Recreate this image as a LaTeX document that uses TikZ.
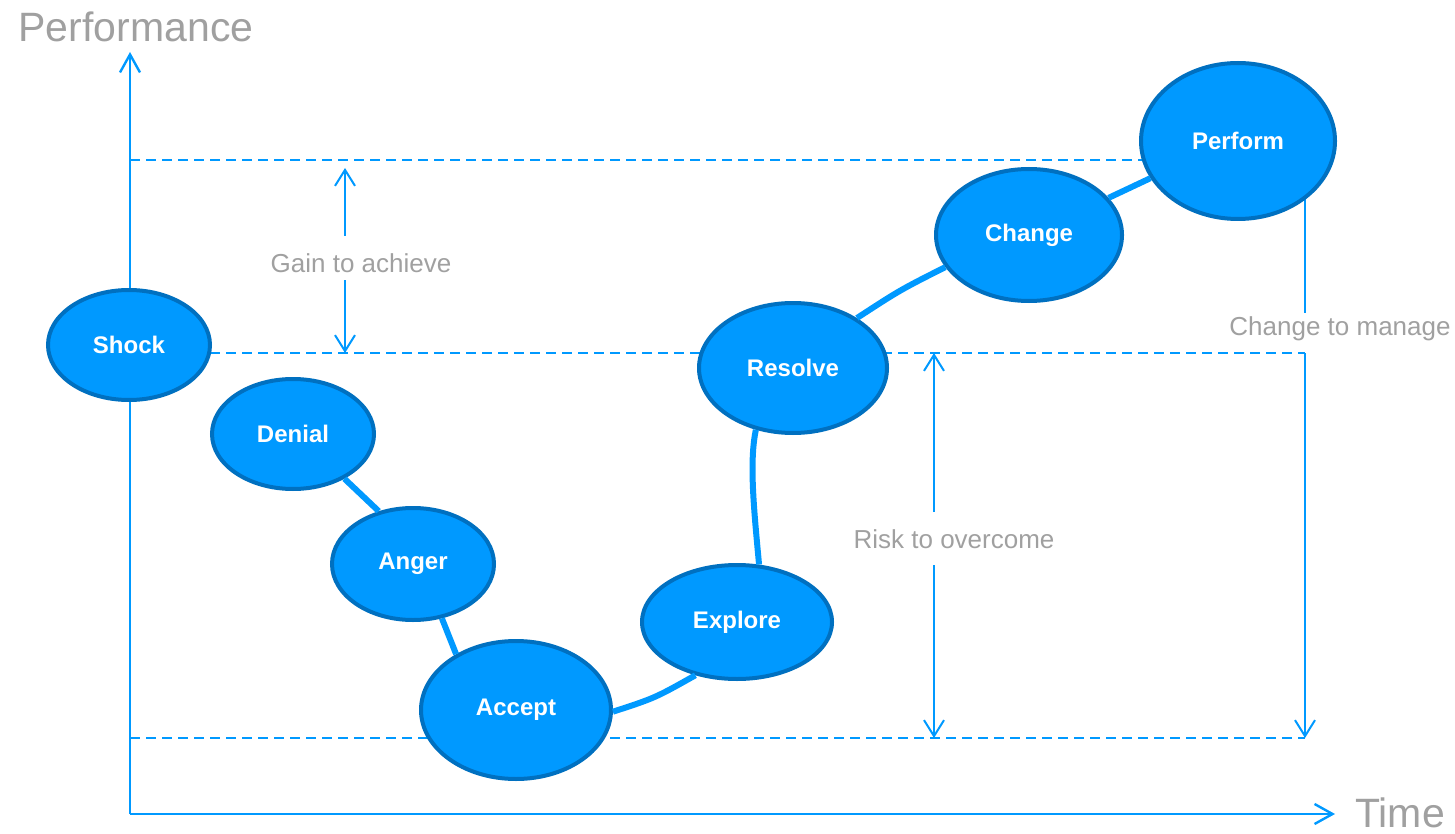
\documentclass[tikz,border=0pt]{standalone}
\usepackage{fontspec}
\setmainfont{Liberation Sans}
\usetikzlibrary{shapes.geometric,arrows.meta}
\definecolor{fillb}{HTML}{0099FF}
\definecolor{edgeb}{HTML}{0070C0}
\definecolor{lineb}{HTML}{0099FF}
\definecolor{greyt}{HTML}{A0A0A0}
\begin{document}
\begin{tikzpicture}[x=0.5pt,y=-0.5pt,
 stage/.style={ellipse, fill=fillb, draw=edgeb, line width=2pt, inner sep=0pt, text=white, font=\fontsize{12}{14}\selectfont\bfseries},
 link/.style={draw=lineb, line width=3pt},
 axisline/.style={draw=lineb, line width=1.2pt, -{Straight Barb[length=9pt,width=10pt]}},
 arr/.style={draw=lineb, line width=1pt, -{Straight Barb[length=8pt,width=10pt]}},
 plainline/.style={draw=lineb, line width=1pt},
 guide/.style={draw=lineb, line width=0.9pt, dash pattern=on 5pt off 3pt},
 lab/.style={text=greyt, font=\fontsize{13}{15}\selectfont},
 big/.style={text=greyt, inner sep=0pt, font=\fontsize{20.5}{24}\selectfont}]
\useasboundingbox (0,0) rectangle (1455,834);
% coordinates
\coordinate (o) at (130,814);
\coordinate (ytop) at (130,52);
\coordinate (xend) at (1335,814);
\coordinate (d1a) at (130,160);  \coordinate (d1b) at (1238,160);
\coordinate (d2a) at (130,353);  \coordinate (d2b) at (1305,353);
\coordinate (d3a) at (130,738);  \coordinate (d3b) at (1305,738);
\coordinate (g1) at (345,236);   \coordinate (g1t) at (345,168);
\coordinate (g2) at (345,280);   \coordinate (g2t) at (345,353);
\coordinate (r1) at (934,512);   \coordinate (r1t) at (934,353);
\coordinate (r2) at (934,565);   \coordinate (r2t) at (934,738);
\coordinate (c0) at (1305,197);  \coordinate (c1) at (1305,313);
\coordinate (c2) at (1305,353);  \coordinate (c2t) at (1305,738);
% guides
\draw[guide] (d1a) -- (d1b);
\draw[guide] (d2a) -- (d2b);
\draw[guide] (d3a) -- (d3b);
% axes
\draw[axisline] (o) -- (ytop);
\draw[axisline] (o) -- (xend);
% measure arrows
\draw[arr] (g1) -- (g1t);
\draw[arr] (g2) -- (g2t);
\draw[arr] (r1) -- (r1t);
\draw[arr] (r2) -- (r2t);
\draw[plainline] (c0) -- (c1);
\draw[arr] (c2) -- (c2t);
% labels
\node[big] (perf) at (136,27) {Performance};
\node[big] (time) at (1400,813) {Time};
\node[lab] (gain) at (361,263) {Gain to achieve};
\node[lab] (risk) at (954,539) {Risk to overcome};
\node[lab] (cm) at (1340,329) {Change to manage};
% stages
\node[stage, minimum width=81pt, minimum height=55pt] (shock) at (129,345) {Shock};
\node[stage, minimum width=81pt, minimum height=55pt] (denial) at (293,434) {Denial};
\node[stage, minimum width=81pt, minimum height=56pt] (anger) at (413,564) {Anger};
\node[stage, minimum width=95pt, minimum height=69pt] (accept) at (516,710) {Accept};
\node[stage, minimum width=95pt, minimum height=57pt] (explore) at (737,622) {Explore};
\node[stage, minimum width=94pt, minimum height=65pt] (resolve) at (793,368) {Resolve};
\node[stage, minimum width=93pt, minimum height=66pt] (change) at (1029,235) {Change};
\node[stage, minimum width=97pt, minimum height=78pt] (perform) at (1238,141) {Perform};
% links
\draw[link] (denial.-41) -- (anger.123);
\draw[link] (anger.-62) -- (accept.137);
\draw[link] (accept.-1) .. controls (655,698) .. (explore.-128);
\draw[link] (explore.69) .. controls (754,510) and (749,462) .. (resolve.-121);
\draw[link] (resolve.38) .. controls (900,290) .. (change.201);
\draw[link] (change.25) -- (perform.203);
\end{tikzpicture}
\end{document}
